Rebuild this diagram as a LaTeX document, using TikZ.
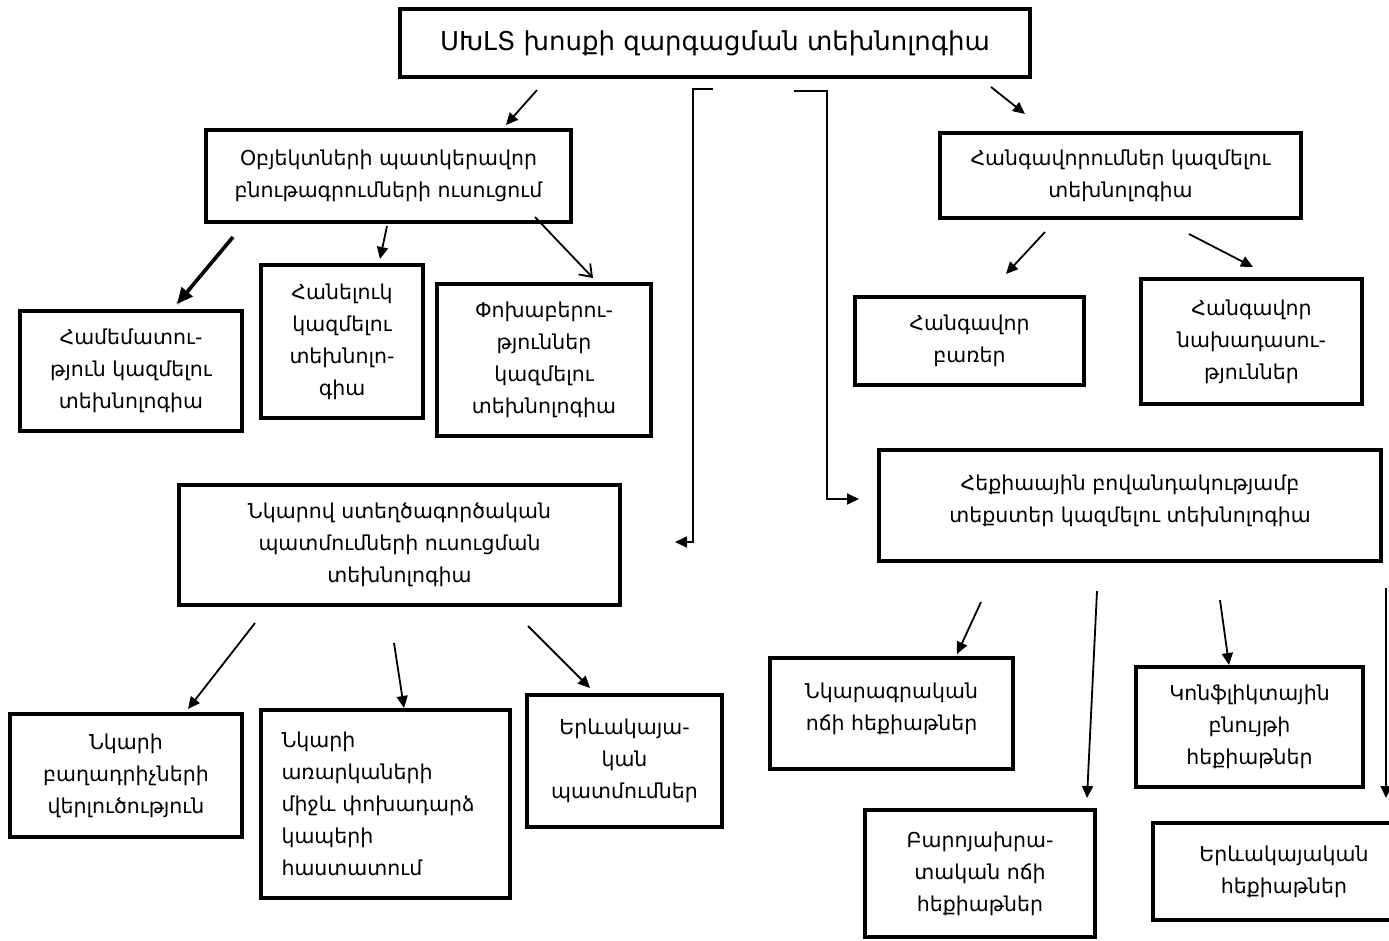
\documentclass[tikz,border=0pt]{standalone}
\usepackage{fontspec}
\setmainfont{DejaVu Sans}
\usetikzlibrary{arrows.meta}
\begin{document}
\begin{tikzpicture}[x=1pt,y=-1pt,
  box/.style={draw, line width=4pt, inner sep=0pt, align=center,
    font=\fontsize{20.5}{32}\selectfont},
  conn/.style={line width=1.8pt, -{Triangle[length=12pt,width=11pt]}},
  openconn/.style={line width=1.8pt, -{Straight Barb[length=11pt,width=16pt,line width=1.8pt]}},
  thickconn/.style={line width=3.6pt, -{Triangle[length=16pt,width=14pt]}},
  elbow/.style={line width=1.8pt}]
\useasboundingbox (0,0) rectangle (1389,940);

% boxes
\node[box, minimum width=630, minimum height=68, font=\fontsize{26}{32}\selectfont] (title) at (715,43) {ՍԽԼՏ խոսքի զարգացման տեխնոլոգիա};
\node[box, minimum width=365, minimum height=92] (obj) at (388.5,176) {Օբյեկտների պատկերավոր\\բնութագրումների ուսուցում};
\node[box, minimum width=361, minimum height=85] (hang) at (1120.5,175.5) {Հանգավորումներ կազմելու\\տեխնոլոգիա};
\node[box, minimum width=222, minimum height=120] (hamem) at (131,371) {Համեմատու-\\թյուն կազմելու\\տեխնոլոգիա};
\node[box, minimum width=162, minimum height=153] (hanel) at (342,341.5) {Հանելուկ\\կազմելու\\տեխնոլո-\\գիա};
\node[box, minimum width=214, minimum height=152] (poxab) at (544,360) {Փոխաբերու-\\թյուններ\\կազմելու\\տեխնոլոգիա};
\node[box, minimum width=229, minimum height=88] (barer) at (969.5,341) {Հանգավոր\\բառեր};
\node[box, minimum width=221, minimum height=125] (naxad) at (1251.5,341.5) {Հանգավոր\\նախադասու-\\թյուններ};
\node[box, minimum width=441, minimum height=120] (nkarov) at (399.5,545) {Նկարով ստեղծագործական\\պատմումների ուսուցման\\տեխնոլոգիա};
\node[box, minimum width=502, minimum height=111, text depth=14pt] (heqia) at (1130,505.5) {Հեքիաային բովանդակությամբ\\տեքստեր կազմելու տեխնոլոգիա};
\node[box, minimum width=232, minimum height=123] (baghad) at (126,775.5) {Նկարի\\բաղադրիչների\\վերլուծություն};
\node[box, minimum width=249, minimum height=188, text width=208pt, align=left] (arark) at (385.5,804) {Նկարի\\առարկաների\\միջև փոխադարձ\\կապերի\\հաստատում};
\node[box, minimum width=195, minimum height=132] (erevpatm) at (624.5,761) {Երևակայա-\\կան\\պատմումներ};
\node[box, minimum width=243, minimum height=111, text depth=14pt] (nkaragr) at (891.5,713.5) {Նկարագրական\\ոճի հեքիաթներ};
\node[box, minimum width=227, minimum height=120] (konfl) at (1249.5,727) {Կոնֆլիկտային\\բնույթի\\հեքիաթներ};
\node[box, minimum width=230, minimum height=127] (barroy) at (980,873.5) {Բարոյախրա-\\տական ոճի\\հեքիաթներ};
\node[box, minimum width=262, minimum height=97] (erevheq) at (1284,871.5) {Երևակայական\\հեքիաթներ};

% free connector ends
\coordinate (t1s) at (537,90);   \coordinate (t1e) at (506,125);
\coordinate (t2s) at (991,87);   \coordinate (t2e) at (1025,114);
\coordinate (l1s) at (713,89);   \coordinate (l1c) at (693,89);   \coordinate (l1e) at (675,542);
\coordinate (r1s) at (794,91);   \coordinate (r1c) at (827,91);   \coordinate (r1e) at (859,499);
\coordinate (o1s) at (233,237);  \coordinate (o1e) at (177,304);
\coordinate (o2s) at (387,226);  \coordinate (o2e) at (380,259);
\coordinate (o3s) at (535,217);  \coordinate (o3e) at (593,278);
\coordinate (h1s) at (1045,232); \coordinate (h1e) at (1006,274);
\coordinate (h2s) at (1189,234); \coordinate (h2e) at (1253,267);
\coordinate (n1s) at (255,623);  \coordinate (n1e) at (188,709);
\coordinate (n2s) at (394,643);  \coordinate (n2e) at (404,708);
\coordinate (n3s) at (528,626);  \coordinate (n3e) at (590,688);
\coordinate (q1s) at (981,602);  \coordinate (q1e) at (957,654);
\coordinate (q2s) at (1097,591); \coordinate (q2e) at (1087,798);
\coordinate (q3s) at (1220,600); \coordinate (q3e) at (1229,665);
\coordinate (q4s) at (1386,588); \coordinate (q4e) at (1386,798);

% connectors
\draw[conn] (t1s) -- (t1e);
\draw[conn] (t2s) -- (t2e);
\draw[conn] (l1s) -- (l1c) |- (l1e);
\draw[conn] (r1s) -- (r1c) |- (r1e);
\draw[line width=3.6pt, black!25, shift={(2pt,-2pt)}] (o1s) -- (o1e);
\draw[thickconn] (o1s) -- (o1e);
\draw[conn] (o2s) -- (o2e);
\draw[openconn] (o3s) -- (o3e);
\draw[conn] (h1s) -- (h1e);
\draw[conn] (h2s) -- (h2e);
\draw[conn] (n1s) -- (n1e);
\draw[conn] (n2s) -- (n2e);
\draw[conn] (n3s) -- (n3e);
\draw[conn] (q1s) -- (q1e);
\draw[conn] (q2s) -- (q2e);
\draw[conn] (q3s) -- (q3e);
\draw[conn] (q4s) -- (q4e);
\end{tikzpicture}
\end{document}
